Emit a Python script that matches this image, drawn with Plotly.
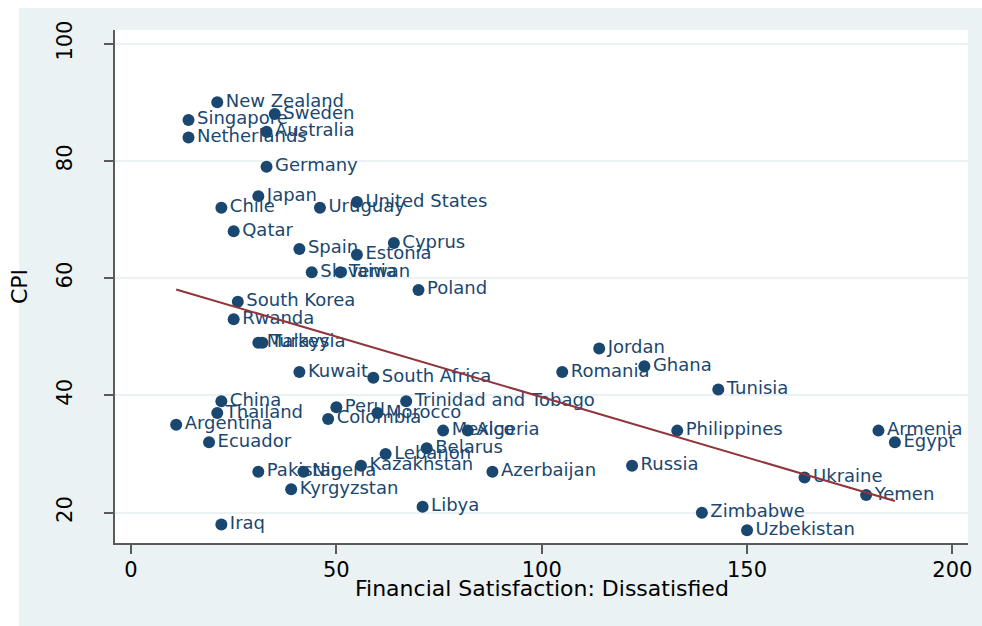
import numpy as np
import plotly.graph_objects as go

countries = ["New Zealand", "Singapore", "Sweden", "Australia", "Netherlands", "Germany",
             "Japan", "Chile", "Uruguay", "United States", "Qatar", "Spain", "Cyprus",
             "Estonia", "Slovenia", "Taiwan", "Poland", "South Korea", "Rwanda", "Malaysia",
             "Turkey", "Kuwait", "South Africa", "China", "Thailand", "Peru", "Morocco",
             "Colombia", "Trinidad and Tobago", "Argentina", "Mexico", "Algeria", "Ecuador",
             "Belarus", "Lebanon", "Kazakhstan", "Pakistan", "Nigeria", "Azerbaijan",
             "Kyrgyzstan", "Libya", "Iraq", "Jordan", "Romania", "Ghana", "Tunisia",
             "Philippines", "Russia", "Armenia", "Egypt", "Ukraine", "Yemen", "Zimbabwe",
             "Uzbekistan"]
dissatisfied = [21, 14, 35, 33, 14, 33,
                31, 22, 46, 55, 25, 41, 64,
                55, 44, 51, 70, 26, 25, 31,
                32, 41, 59, 22, 21, 50, 60,
                48, 67, 11, 76, 82, 19,
                72, 62, 56, 31, 42, 88,
                39, 71, 22, 114, 105, 125, 143,
                133, 122, 182, 186, 164, 179, 139,
                150]
cpi = [90, 87, 88, 85, 84, 79,
       74, 72, 72, 73, 68, 65, 66,
       64, 61, 61, 58, 56, 53, 49,
       49, 44, 43, 39, 37, 38, 37,
       36, 39, 35, 34, 34, 32,
       31, 30, 28, 27, 27, 27,
       24, 21, 18, 48, 44, 45, 41,
       34, 28, 34, 32, 26, 23, 20,
       17]
x_ticks = [0, 50, 100, 150, 200]
y_ticks = [20, 40, 60, 80, 100]
x_title = "Financial Satisfaction: Dissatisfied"
y_title = "CPI"

x_arr = np.array(dissatisfied, dtype=float)
y_arr = np.array(cpi, dtype=float)
slope, intercept = np.polyfit(x_arr, y_arr, 1)
fit_x = np.array([x_arr.min(), x_arr.max()])
fit_y = intercept + slope * fit_x

NAVY = "#1a476f"
MAROON = "#90353b"
BG = "#eaf2f3"
AXIS = "#5a5a5a"
FONT = "DejaVu Sans"

fig = go.Figure()
fig.add_trace(go.Scatter(
    x=dissatisfied, y=cpi, text=countries, mode="markers+text",
    textposition="middle right",
    marker=dict(size=12, color=NAVY, line=dict(width=0)),
    textfont=dict(family=FONT, size=18, color=NAVY),
    showlegend=False, cliponaxis=False,
))
fig.add_trace(go.Scatter(
    x=fit_x, y=fit_y, mode="lines",
    line=dict(color=MAROON, width=2), showlegend=False,
))

W, H = 982, 626
L, R, T, B = 115, 14, 30, 83
pw, ph = W - L - R, H - T - B

def px_x(p):
    return (p - L) / pw

def px_y(p):
    return (H - B - p) / ph

shapes = [
    dict(type="rect", xref="paper", yref="paper", layer="below",
         x0=px_x(0), x1=px_x(19), y0=px_y(H), y1=px_y(0),
         fillcolor="white", line=dict(width=0)),
    dict(type="rect", xref="paper", yref="paper", layer="below",
         x0=px_x(0), x1=px_x(W), y0=px_y(8), y1=px_y(0),
         fillcolor="white", line=dict(width=0)),
]

annotations = [
    dict(text=x_title, xref="paper", yref="paper", x=0.5, y=px_y(589),
         xanchor="center", yanchor="middle", showarrow=False,
         font=dict(family=FONT, size=22, color="black")),
]

fig.update_layout(
    width=W, height=H,
    margin=dict(l=L, r=R, t=T, b=B, pad=0),
    paper_bgcolor=BG, plot_bgcolor="white",
    font=dict(family=FONT, color="black"),
    shapes=shapes, annotations=annotations,
    xaxis=dict(
        range=[-3.9, 203.8], tickvals=x_ticks, ticktext=[str(v) for v in x_ticks],
        showgrid=False, zeroline=False, showline=True, linecolor=AXIS, linewidth=1.5,
        ticks="outside", ticklen=9, tickwidth=1.5, tickcolor=AXIS,
        tickfont=dict(family=FONT, size=21, color="black"),
        automargin=False, ticklabelstandoff=-2,
    ),
    yaxis=dict(
        range=[14.83, 102.34], tickvals=y_ticks, ticktext=[str(v) for v in y_ticks],
        showgrid=True, gridcolor=BG, gridwidth=2,
        zeroline=False, showline=True, linecolor=AXIS, linewidth=1.5,
        ticks="outside", ticklen=9, tickwidth=1.5, tickcolor=AXIS, tickangle=-90,
        tickfont=dict(family=FONT, size=21, color="black"),
        title=dict(text=y_title, font=dict(family=FONT, size=22, color="black"), standoff=19),
        automargin=False, ticklabelstandoff=24,
    ),
)

fig.write_html("out.html")
